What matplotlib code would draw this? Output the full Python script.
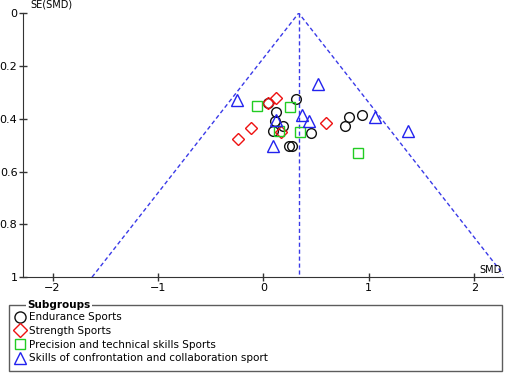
import matplotlib.pyplot as plt
from matplotlib.lines import Line2D

# pooled estimate and funnel limits
pooled_smd = 0.335

endurance_x = [0.31, 0.045, 0.123, 0.11, 0.187, 0.088, 0.455, 0.24, 0.272, 0.815, 0.935, 0.777]
endurance_se = [0.326, 0.342, 0.376, 0.41, 0.427, 0.446, 0.456, 0.504, 0.504, 0.393, 0.386, 0.427]

strength_x = [0.12, 0.04, -0.114, -0.24, 0.597, 0.17]
strength_se = [0.32, 0.34, 0.434, 0.477, 0.418, 0.45]

precision_x = [-0.06, 0.256, 0.145, 0.35, 0.898]
precision_se = [0.351, 0.357, 0.446, 0.452, 0.531]

confront_x = [-0.25, 0.52, 0.367, 0.436, 0.12, 0.088, 1.055, 1.37]
confront_se = [0.33, 0.27, 0.386, 0.408, 0.405, 0.503, 0.393, 0.447]

group_names = ["Endurance Sports", "Strength Sports",
               "Precision and technical skills Sports",
               "Skills of confrontation and collaboration sport"]

fig = plt.figure(figsize=(5.05, 3.73), dpi=100)
ax = fig.add_axes([0.0455, 0.257, 0.95, 0.708])

line_blue = "#3a3ae8"
ax.plot([pooled_smd, pooled_smd], [0, 1], color=line_blue, lw=1, ls=(0, (3, 2)))
ax.plot([pooled_smd - 1.96, pooled_smd, pooled_smd + 1.96], [1, 0, 1],
        color=line_blue, lw=1, ls=(0, (3, 2)))

styles = [
    (endurance_x, endurance_se, "o", "#111111", 7),
    (strength_x, strength_se, "D", "#ee1111", 6),
    (precision_x, precision_se, "s", "#22cc22", 6.5),
    (confront_x, confront_se, "^", "#2222ee", 8),
]
handles = []
for (xs, ys, m, c, ms), name in zip(styles, group_names):
    ax.plot(xs, ys, ls="none", marker=m, ms=ms, mfc="none", mec=c, mew=1)
    handles.append(Line2D([], [], ls="none", marker=m, ms=ms + 1, mfc="none",
                          mec=c, mew=1, label=name))

ax.set_xlim(-2.28, 2.27)
ax.set_ylim(1, 0)
ax.set_xticks([-2, -1, 0, 1, 2])
ax.set_xticklabels(["\u22122", "\u22121", "0", "1", "2"])
ax.set_yticks([0, 0.2, 0.4, 0.6, 0.8, 1])
ax.set_yticklabels(["0", "0.2", "0.4", "0.6", "0.8", "1"])
for s in ["top", "right"]:
    ax.spines[s].set_visible(False)
for s in ["left", "bottom"]:
    ax.spines[s].set_color("#333333")
ax.tick_params(direction="inout", length=6, width=1, color="#333333",
               labelsize=8, pad=1)

ax.annotate("SE(SMD)", xy=(0, 0), xycoords=("axes fraction", "data"),
            xytext=(5, 6), textcoords="offset points", fontsize=7,
            va="center", ha="left")
ax.annotate("SMD", xy=(1, 1), xycoords=("axes fraction", "data"),
            xytext=(-1, 5), textcoords="offset points", fontsize=7,
            va="center", ha="right")

leg = fig.legend(handles=handles, loc="upper left",
                 bbox_to_anchor=(9 / 505, 0.006, 493 / 505, 0.176),
                 mode="expand", fontsize=7.5, frameon=True, fancybox=False,
                 handlelength=0.8, handletextpad=0.4, borderpad=0.7,
                 labelspacing=0.35, borderaxespad=0)
leg.get_frame().set_edgecolor("#333333")
leg.get_frame().set_linewidth(1)
fig.text(27 / 505, 0.182, "Subgroups", fontsize=7.5, fontweight="bold",
         va="center", ha="left", zorder=10,
         bbox=dict(facecolor="white", edgecolor="none", pad=1))

fig.savefig("out.png", dpi=100)
